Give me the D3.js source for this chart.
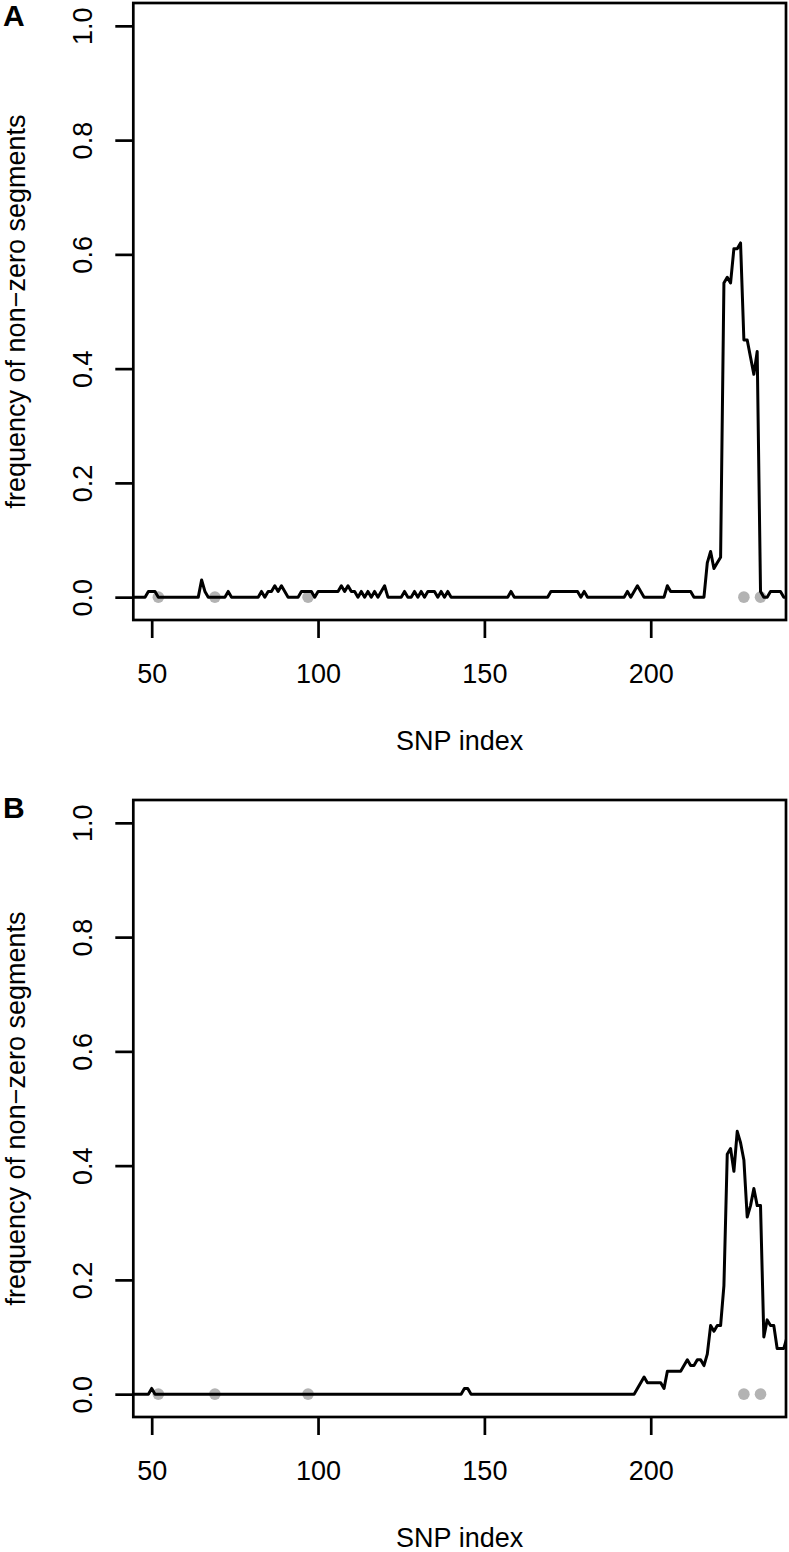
<!DOCTYPE html>
<html><head><meta charset="utf-8">
<script src="https://cdn.jsdelivr.net/npm/d3@7/dist/d3.min.js"></script>
<style>
body{margin:0;background:#fff;}
svg{display:block;}
text{font-family:"Liberation Sans",Arial,Helvetica,sans-serif;fill:#000;}
</style>
</head><body>
<svg id="chart" width="789" height="1552"></svg>
<script>
// SNP positions (x) for both panels
const snpIndex = [
  44,45,46,47,48,49,
  50,51,52,53,54,55,56,57,58,59,
  60,61,62,63,64,65,66,67,68,69,
  70,71,72,73,74,75,76,77,78,79,
  80,81,82,83,84,85,86,87,88,89,
  90,91,92,93,94,95,96,97,98,99,
  100,101,102,103,104,105,106,107,108,109,
  110,111,112,113,114,115,116,117,118,119,
  120,121,122,123,124,125,126,127,128,129,
  130,131,132,133,134,135,136,137,138,139,
  140,141,142,143,144,145,146,147,148,149,
  150,151,152,153,154,155,156,157,158,159,
  160,161,162,163,164,165,166,167,168,169,
  170,171,172,173,174,175,176,177,178,179,
  180,181,182,183,184,185,186,187,188,189,
  190,191,192,193,194,195,196,197,198,199,
  200,201,202,203,204,205,206,207,208,209,
  210,211,212,213,214,215,216,217,218,219,
  220,221,222,223,224,225,226,227,228,229,
  230,231,232,233,234,235,236,237,238,239,
  240,241
];
// Panel A: frequency of non-zero segments
const freqA = [
  0,0,0,0,0,0.01,
  0.01,0.01,0,0,0,0,0,0,0,0,
  0,0,0,0,0,0.03,0.01,0,0,0,
  0,0,0,0.01,0,0,0,0,0,0,
  0,0,0,0.01,0,0.01,0.01,0.02,0.01,0.02,
  0.01,0,0,0,0,0.01,0.01,0.01,0.01,0,
  0.01,0.01,0.01,0.01,0.01,0.01,0.01,0.02,0.01,0.02,
  0.01,0.01,0,0.01,0,0.01,0,0.01,0,0.01,
  0.02,0,0,0,0,0,0.01,0,0,0.01,
  0,0.01,0,0.01,0.01,0.01,0,0.01,0,0.01,
  0,0,0,0,0,0,0,0,0,0,
  0,0,0,0,0,0,0,0,0.01,0,
  0,0,0,0,0,0,0,0,0,0,
  0.01,0.01,0.01,0.01,0.01,0.01,0.01,0.01,0.01,0,
  0.01,0,0,0,0,0,0,0,0,0,
  0,0,0,0.01,0,0.01,0.02,0.01,0,0,
  0,0,0,0,0,0.02,0.01,0.01,0.01,0.01,
  0.01,0.01,0.01,0,0,0,0,0.06,0.08,0.05,
  0.06,0.07,0.55,0.56,0.55,0.61,0.61,0.62,0.45,0.45,
  0.42,0.39,0.43,0.01,0,0,0.01,0.01,0.01,0.01,
  0,0
];
// Panel B: frequency of non-zero segments
const freqB = [
  0,0,0,0,0,0,
  0.01,0,0,0,0,0,0,0,0,0,
  0,0,0,0,0,0,0,0,0,0,
  0,0,0,0,0,0,0,0,0,0,
  0,0,0,0,0,0,0,0,0,0,
  0,0,0,0,0,0,0,0,0,0,
  0,0,0,0,0,0,0,0,0,0,
  0,0,0,0,0,0,0,0,0,0,
  0,0,0,0,0,0,0,0,0,0,
  0,0,0,0,0,0,0,0,0,0,
  0,0,0,0,0.01,0.01,0,0,0,0,
  0,0,0,0,0,0,0,0,0,0,
  0,0,0,0,0,0,0,0,0,0,
  0,0,0,0,0,0,0,0,0,0,
  0,0,0,0,0,0,0,0,0,0,
  0,0,0,0,0,0,0.01,0.02,0.03,0.02,
  0.02,0.02,0.02,0.02,0.01,0.04,0.04,0.04,0.04,0.04,
  0.05,0.06,0.05,0.05,0.06,0.06,0.05,0.07,0.12,0.11,
  0.12,0.12,0.19,0.42,0.43,0.39,0.46,0.44,0.41,0.31,
  0.33,0.36,0.33,0.33,0.10,0.13,0.12,0.12,0.08,0.08,
  0.08,0.10
];
// grey reference markers at zero
const markerIndex = [52, 69, 97, 228, 233];
const markerValue = [0, 0, 0, 0, 0];

const xTicks = [50, 100, 150, 200];
const yTicks = [0, 0.2, 0.4, 0.6, 0.8, 1.0];
const panelLabels = ["A", "B"];
const xLabel = "SNP index";
const yLabel = "frequency of non\u2212zero segments";

const panels = [
  {label: panelLabels[0], values: freqA},
  {label: panelLabels[1], values: freqB}
];

const svg = d3.select("#chart");
const left = 133.3, right = 786;
const panelTop = 3, panelBottom = 620, panelStep = 797;
const fs = 27;

const x = d3.scaleLinear().domain([44.47, 240.66]).range([left, right]);

panels.forEach((p, i) => {
  const top = panelTop + i * panelStep;
  const bottom = panelBottom + i * panelStep;
  const y = d3.scaleLinear().domain([-0.04, 1.04]).range([bottom, top]);
  const g = svg.append("g");

  const clipId = "clip" + i;
  svg.append("defs").append("clipPath").attr("id", clipId)
    .append("rect").attr("x", left).attr("y", top)
    .attr("width", right - left).attr("height", bottom - top);

  // grey markers
  g.append("g").selectAll("circle")
    .data(markerIndex.map((d, k) => ({x: d, y: markerValue[k]})))
    .join("circle")
    .attr("cx", d => x(d.x)).attr("cy", d => y(d.y))
    .attr("r", 5.8).attr("fill", "#b3b3b3");

  // line
  const line = d3.line().x(d => x(d.x)).y(d => y(d.y));
  g.append("path")
    .datum(snpIndex.map((d, k) => ({x: d, y: p.values[k]})))
    .attr("clip-path", `url(#${clipId})`)
    .attr("d", line)
    .attr("fill", "none").attr("stroke", "#000")
    .attr("stroke-width", 3).attr("stroke-linejoin", "round");

  // box
  g.append("rect").attr("x", left).attr("y", top)
    .attr("width", right - left).attr("height", bottom - top)
    .attr("fill", "none").attr("stroke", "#000").attr("stroke-width", 2.7);

  // y axis
  const ya = g.append("g").attr("transform", `translate(${left},0)`)
    .call(d3.axisLeft(y).tickValues(yTicks).tickSize(18).tickFormat(d3.format(".1f")));
  ya.select(".domain").remove();
  ya.selectAll(".tick line").attr("stroke", "#000").attr("stroke-width", 2.7);
  ya.selectAll(".tick text")
    .attr("x", null).attr("dy", null).attr("y", null)
    .attr("text-anchor", "middle")
    .attr("transform", "translate(-41,0) rotate(-90)")
    .style("font-size", fs + "px").style("font-family", "'Liberation Sans',Arial,sans-serif");

  // x axis
  const xa = g.append("g").attr("transform", `translate(0,${bottom})`)
    .call(d3.axisBottom(x).tickValues(xTicks).tickSize(18));
  xa.select(".domain").remove();
  xa.selectAll(".tick line").attr("stroke", "#000").attr("stroke-width", 2.7);
  xa.selectAll(".tick text")
    .attr("dy", null).attr("y", 63)
    .style("font-size", fs + "px").style("font-family", "'Liberation Sans',Arial,sans-serif");

  // axis titles
  g.append("text").attr("x", (left + right) / 2).attr("y", bottom + 130)
    .attr("text-anchor", "middle").style("font-size", fs + "px").text(xLabel);
  g.append("text")
    .attr("transform", `translate(25,${(top + bottom) / 2}) rotate(-90)`)
    .attr("text-anchor", "middle").style("font-size", fs + "px").text(yLabel);

  // panel label
  g.append("text").attr("x", 3).attr("y", i === 0 ? 26 : 818)
    .style("font-size", "30px").style("font-weight", "bold").text(p.label);
});
</script>
</body></html>
